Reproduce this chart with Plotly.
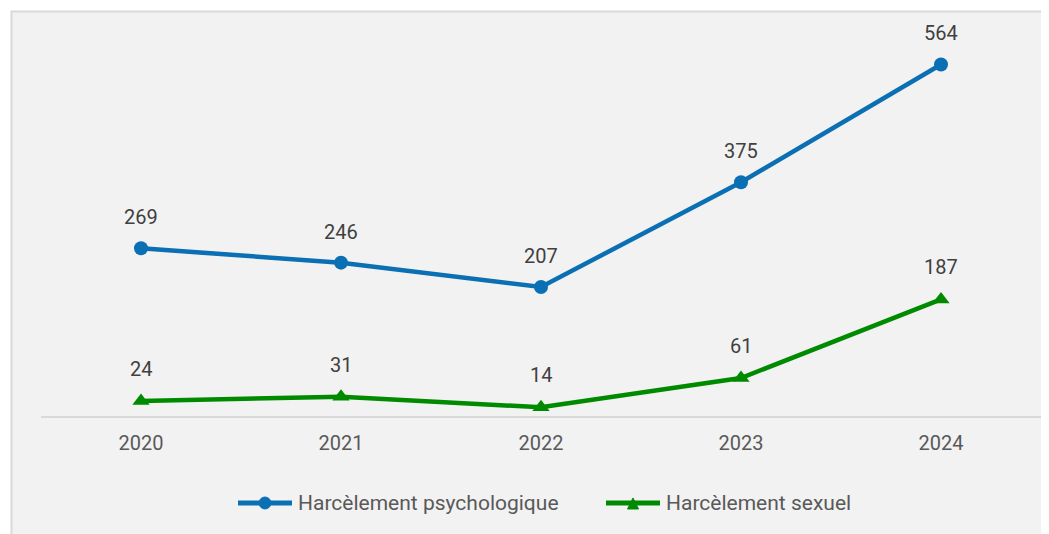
import plotly.graph_objects as go

years = ["2020", "2021", "2022", "2023", "2024"]
psycho = [269, 246, 207, 375, 564]
sexuel = [24, 31, 14, 61, 187]
series_names = ["Harcèlement psychologique", "Harcèlement sexuel"]

BLUE = "#0b6fb3"
GREEN = "#008a00"
FONT = "Roboto"
LABEL_COLOR = "#404040"
TEXT_COLOR = "#595959"

xpos = list(range(len(years)))

fig = go.Figure()
fig.add_trace(go.Scatter(x=xpos, y=psycho, mode="lines+markers", name=series_names[0],
                         line=dict(color=BLUE, width=4.5), marker=dict(symbol="circle", size=14, color=BLUE)))
fig.add_trace(go.Scatter(x=xpos, y=sexuel, mode="lines+markers", name=series_names[1],
                         line=dict(color=GREEN, width=4.5), marker=dict(symbol="triangle-up", size=15, color=GREEN)))

for x, y in zip(xpos, psycho):
    fig.add_annotation(x=x, y=y, text=str(y), showarrow=False, yshift=31,
                       font=dict(family=FONT, size=20, color=LABEL_COLOR))
for x, y in zip(xpos, sexuel):
    fig.add_annotation(x=x, y=y, text=str(y), showarrow=False, yshift=32,
                       font=dict(family=FONT, size=20, color=LABEL_COLOR))

# chart panel background with border
fig.add_shape(type="rect", xref="paper", yref="paper", x0=-0.0295, x1=1.05, y0=-0.4, y1=1.0816,
              line=dict(color="#d9d9d9", width=2), fillcolor="#f2f2f2", layer="below")

# custom legend (paper coordinates)
LY = -0.2326
fig.add_shape(type="line", xref="paper", yref="paper", x0=0.197, x1=0.251, y0=LY, y1=LY,
              line=dict(color=BLUE, width=5))
fig.add_shape(type="circle", xref="paper", yref="paper", x0=0.218, x1=0.230, y0=LY - 0.016, y1=LY + 0.016,
              line=dict(color=BLUE, width=1), fillcolor=BLUE)
fig.add_annotation(xref="paper", yref="paper", x=0.255, y=LY, xanchor="left", yanchor="middle",
                   text=series_names[0], showarrow=False, font=dict(family=FONT, size=21, color=TEXT_COLOR))
fig.add_shape(type="line", xref="paper", yref="paper", x0=0.565, x1=0.619, y0=LY, y1=LY,
              line=dict(color=GREEN, width=5))
fig.add_shape(type="path", xref="paper", yref="paper",
              path="M 0.5865,-0.2487 L 0.5975,-0.2487 L 0.592,-0.2192 Z",
              line=dict(color=GREEN, width=1), fillcolor=GREEN)
fig.add_annotation(xref="paper", yref="paper", x=0.623, y=LY, xanchor="left", yanchor="middle",
                   text=series_names[1], showarrow=False, font=dict(family=FONT, size=21, color=TEXT_COLOR))

fig.update_layout(
    width=1049, height=534,
    margin=dict(l=33, r=16, t=34, b=126),
    paper_bgcolor="white", plot_bgcolor="rgba(0,0,0,0)",
    font=dict(family=FONT, size=20, color=TEXT_COLOR),
    showlegend=False,
    xaxis=dict(range=[-0.5, 4.5], tickmode="array", tickvals=xpos, ticktext=years,
               showgrid=False, showline=True, linecolor="#d9d9d9", linewidth=2,
               ticks="outside", ticklen=8, tickcolor="rgba(0,0,0,0)",
               tickfont=dict(family=FONT, size=20, color=TEXT_COLOR), zeroline=False),
    yaxis=dict(range=[0, 600], visible=False, showgrid=False, zeroline=False),
)

fig.write_html("out.html")
